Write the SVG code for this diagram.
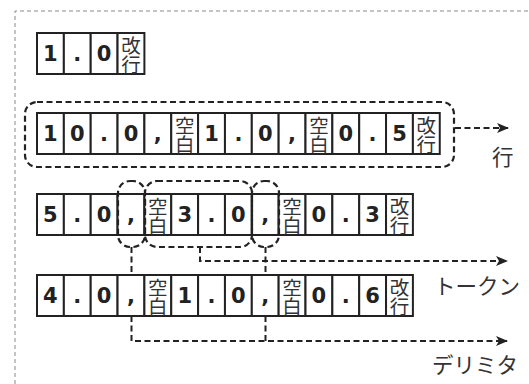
<svg xmlns="http://www.w3.org/2000/svg" width="529" height="384" viewBox="0 0 529 384">
<defs>
<style>
.frame{fill:none;stroke:#8a8a8a;stroke-width:1;stroke-dasharray:4 3}
.cell{fill:#fff;stroke:#222;stroke-width:2}
.d{font-family:"DejaVu Sans",Verdana,sans-serif;font-weight:bold;font-size:21px;fill:#222;text-anchor:middle;dominant-baseline:central}
.k{font-family:"Noto Sans CJK JP",sans-serif;font-size:19.5px;fill:#333;text-anchor:middle;dominant-baseline:central}
.grp{fill:none;stroke:#222;stroke-width:2.2;stroke-dasharray:6 3.5}
.con{fill:none;stroke:#222;stroke-width:2;stroke-dasharray:6 3.5}
.lbl{font-family:"Noto Sans CJK JP",sans-serif;font-size:21.5px;fill:#333;dominant-baseline:central}
</style>
<marker id="ah" viewBox="0 0 12 10" refX="11" refY="5" markerWidth="12" markerHeight="10" markerUnits="userSpaceOnUse" orient="auto">
<path d="M0,0 L12,5 L0,10 L3,5 Z" fill="#222"/>
</marker>
</defs>
<path class="frame" d="M15,384 V11 H529"/>

<g id="row1">
<rect class="cell" x="37" y="33" width="26.85" height="41"/>
<rect class="cell" x="63.85" y="33" width="26.85" height="41"/>
<rect class="cell" x="90.7" y="33" width="26.85" height="41"/>
<rect class="cell" x="117.55" y="33" width="26.85" height="41"/>
<text class="d" x="50.4" y="54">1</text>
<text class="d" x="77.3" y="54">.</text>
<text class="d" x="104.1" y="54">0</text>
<text class="k"><tspan x="131" y="43.7">改</tspan><tspan x="131" dy="19.5">行</tspan></text>
</g>

<g id="row2">
<rect class="cell" x="37" y="113" width="26.85" height="41"/>
<rect class="cell" x="63.85" y="113" width="26.85" height="41"/>
<rect class="cell" x="90.7" y="113" width="26.85" height="41"/>
<rect class="cell" x="117.55" y="113" width="26.85" height="41"/>
<rect class="cell" x="144.4" y="113" width="26.85" height="41"/>
<rect class="cell" x="171.25" y="113" width="26.85" height="41"/>
<rect class="cell" x="198.1" y="113" width="26.85" height="41"/>
<rect class="cell" x="224.95" y="113" width="26.85" height="41"/>
<rect class="cell" x="251.8" y="113" width="26.85" height="41"/>
<rect class="cell" x="278.65" y="113" width="26.85" height="41"/>
<rect class="cell" x="305.5" y="113" width="26.85" height="41"/>
<rect class="cell" x="332.35" y="113" width="26.85" height="41"/>
<rect class="cell" x="359.2" y="113" width="26.85" height="41"/>
<rect class="cell" x="386.05" y="113" width="26.85" height="41"/>
<rect class="cell" x="412.9" y="113" width="26.85" height="41"/>
<text class="d" x="50.4" y="134">1</text>
<text class="d" x="77.3" y="134">0</text>
<text class="d" x="104.1" y="134">.</text>
<text class="d" x="131" y="134">0</text>
<text class="d" x="157.8" y="134">,</text>
<text class="k"><tspan x="184.7" y="123.7">空</tspan><tspan x="184.7" dy="19.5">白</tspan></text>
<text class="d" x="211.5" y="134">1</text>
<text class="d" x="238.4" y="134">.</text>
<text class="d" x="265.2" y="134">0</text>
<text class="d" x="292.1" y="134">,</text>
<text class="k"><tspan x="318.9" y="123.7">空</tspan><tspan x="318.9" dy="19.5">白</tspan></text>
<text class="d" x="345.8" y="134">0</text>
<text class="d" x="372.6" y="134">.</text>
<text class="d" x="399.5" y="134">5</text>
<text class="k"><tspan x="426.3" y="123.7">改</tspan><tspan x="426.3" dy="19.5">行</tspan></text>
</g>

<g id="row3">
<rect class="cell" x="37" y="194" width="26.85" height="41"/>
<rect class="cell" x="63.85" y="194" width="26.85" height="41"/>
<rect class="cell" x="90.7" y="194" width="26.85" height="41"/>
<rect class="cell" x="117.55" y="194" width="26.85" height="41"/>
<rect class="cell" x="144.4" y="194" width="26.85" height="41"/>
<rect class="cell" x="171.25" y="194" width="26.85" height="41"/>
<rect class="cell" x="198.1" y="194" width="26.85" height="41"/>
<rect class="cell" x="224.95" y="194" width="26.85" height="41"/>
<rect class="cell" x="251.8" y="194" width="26.85" height="41"/>
<rect class="cell" x="278.65" y="194" width="26.85" height="41"/>
<rect class="cell" x="305.5" y="194" width="26.85" height="41"/>
<rect class="cell" x="332.35" y="194" width="26.85" height="41"/>
<rect class="cell" x="359.2" y="194" width="26.85" height="41"/>
<rect class="cell" x="386.05" y="194" width="26.85" height="41"/>
<text class="d" x="50.4" y="215">5</text>
<text class="d" x="77.3" y="215">.</text>
<text class="d" x="104.1" y="215">0</text>
<text class="d" x="131" y="215">,</text>
<text class="k"><tspan x="157.8" y="204.7">空</tspan><tspan x="157.8" dy="19.5">白</tspan></text>
<text class="d" x="184.7" y="215">3</text>
<text class="d" x="211.5" y="215">.</text>
<text class="d" x="238.4" y="215">0</text>
<text class="d" x="265.2" y="215">,</text>
<text class="k"><tspan x="292.1" y="204.7">空</tspan><tspan x="292.1" dy="19.5">白</tspan></text>
<text class="d" x="318.9" y="215">0</text>
<text class="d" x="345.8" y="215">.</text>
<text class="d" x="372.6" y="215">3</text>
<text class="k"><tspan x="399.5" y="204.7">改</tspan><tspan x="399.5" dy="19.5">行</tspan></text>
</g>

<g id="row4">
<rect class="cell" x="37" y="275" width="26.85" height="41"/>
<rect class="cell" x="63.85" y="275" width="26.85" height="41"/>
<rect class="cell" x="90.7" y="275" width="26.85" height="41"/>
<rect class="cell" x="117.55" y="275" width="26.85" height="41"/>
<rect class="cell" x="144.4" y="275" width="26.85" height="41"/>
<rect class="cell" x="171.25" y="275" width="26.85" height="41"/>
<rect class="cell" x="198.1" y="275" width="26.85" height="41"/>
<rect class="cell" x="224.95" y="275" width="26.85" height="41"/>
<rect class="cell" x="251.8" y="275" width="26.85" height="41"/>
<rect class="cell" x="278.65" y="275" width="26.85" height="41"/>
<rect class="cell" x="305.5" y="275" width="26.85" height="41"/>
<rect class="cell" x="332.35" y="275" width="26.85" height="41"/>
<rect class="cell" x="359.2" y="275" width="26.85" height="41"/>
<rect class="cell" x="386.05" y="275" width="26.85" height="41"/>
<text class="d" x="50.4" y="296">4</text>
<text class="d" x="77.3" y="296">.</text>
<text class="d" x="104.1" y="296">0</text>
<text class="d" x="131" y="296">,</text>
<text class="k"><tspan x="157.8" y="285.7">空</tspan><tspan x="157.8" dy="19.5">白</tspan></text>
<text class="d" x="184.7" y="296">1</text>
<text class="d" x="211.5" y="296">.</text>
<text class="d" x="238.4" y="296">0</text>
<text class="d" x="265.2" y="296">,</text>
<text class="k"><tspan x="292.1" y="285.7">空</tspan><tspan x="292.1" dy="19.5">白</tspan></text>
<text class="d" x="318.9" y="296">0</text>
<text class="d" x="345.8" y="296">.</text>
<text class="d" x="372.6" y="296">6</text>
<text class="k"><tspan x="399.5" y="285.7">改</tspan><tspan x="399.5" dy="19.5">行</tspan></text>
</g>

<g id="groups">
<rect class="grp" x="25" y="102" width="429" height="65" rx="12"/>
<rect class="grp" x="118" y="181" width="27" height="66" rx="12"/>
<rect class="grp" x="145" y="181" width="107" height="66" rx="12"/>
<rect class="grp" x="252" y="181" width="27" height="66" rx="12"/>
</g>

<g id="connectors">
<path class="con" d="M455,128 H508" marker-end="url(#ah)"/>
<path class="con" d="M200,247 V261 H507" marker-end="url(#ah)"/>
<path class="con" d="M131.5,247 V275"/>
<path class="con" d="M265.5,247 V275"/>
<path class="con" d="M131.5,316 V341 H507" marker-end="url(#ah)"/>
<path class="con" d="M265.5,316 V341"/>
</g>

<g id="labels">
<text class="lbl" x="492" y="155">行</text>
<text class="lbl" x="434" y="284">トークン</text>
<text class="lbl" x="432" y="363">デリミタ</text>
</g>
</svg>
